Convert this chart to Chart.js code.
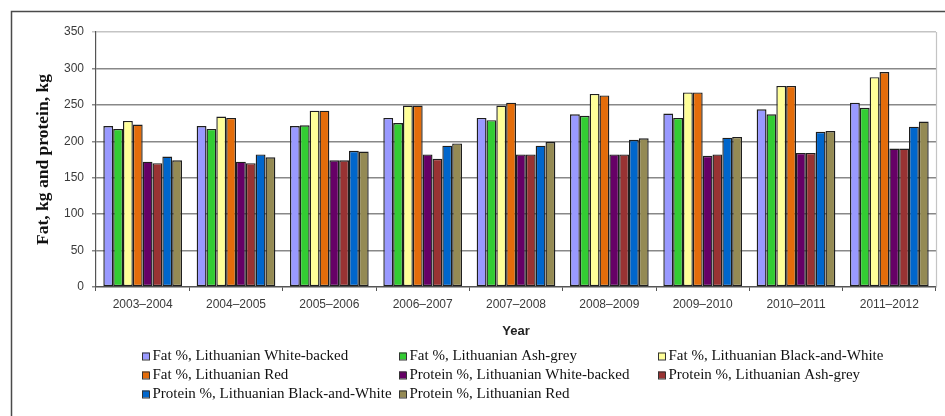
<!DOCTYPE html>
<html>
<head>
<meta charset="utf-8">
<title>Fat and protein yield by breed</title>
<script src="https://cdn.jsdelivr.net/npm/chart.js@4/dist/chart.umd.min.js"></script>
<style>
  html, body { margin: 0; padding: 0; background: #ffffff; }
  #wrap { width: 945px; height: 416px; position: relative; }
  canvas { display: block; }
</style>
</head>
<body>
<div id="wrap"><canvas id="chart" width="945" height="416"></canvas></div>
<script>
// Seasons on the category axis
const years = ['2003–2004', '2004–2005', '2005–2006', '2006–2007', '2007–2008',
               '2008–2009', '2009–2010', '2010–2011', '2011–2012'];

// Fat yield, kg
const fatWhiteBacked   = [221, 221, 221, 232, 232, 237, 238, 244, 253];
const fatAshGrey       = [217, 217, 222, 225, 229, 235, 232, 237, 246];
const fatBlackWhite    = [228, 234, 242, 249, 249, 265, 267, 276, 288];
const fatRed           = [223, 232, 242, 249, 253, 263, 267, 276, 295];

// Protein yield, kg
const proteinWhiteBacked = [172, 172, 174, 182, 182, 182, 180, 184, 190];
const proteinAshGrey     = [170, 170, 174, 176, 182, 182, 182, 184, 190];
const proteinBlackWhite  = [179, 182, 187, 194, 194, 202, 205, 213, 220];
const proteinRed         = [174, 178, 186, 197, 199, 204, 206, 214, 227];

const yTicks = { min: 0, max: 350, step: 50 };

const seriesLabels = [
  'Fat %, Lithuanian White-backed',
  'Fat %, Lithuanian Ash-grey',
  'Fat %, Lithuanian Black-and-White',
  'Fat %, Lithuanian Red',
  'Protein %, Lithuanian White-backed',
  'Protein %, Lithuanian Ash-grey',
  'Protein %, Lithuanian Black-and-White',
  'Protein %, Lithuanian Red'
];
const seriesData = [fatWhiteBacked, fatAshGrey, fatBlackWhite, fatRed,
                    proteinWhiteBacked, proteinAshGrey, proteinBlackWhite, proteinRed];
const seriesColors = ['#9999FF', '#33CC33', '#FFFF99', '#E36C0A',
                      '#660066', '#993333', '#0066CC', '#948A54'];

Chart.defaults.font.family = "'Liberation Sans', Arial, sans-serif";
Chart.defaults.color = '#3a3a3a';

// Outer frame, plot border on the right and the three-column legend
const decorations = {
  id: 'decorations',
  beforeDraw(chart) {
    const ctx = chart.ctx;
    ctx.save();
    ctx.fillStyle = '#ffffff';
    ctx.fillRect(0, 0, chart.width, chart.height);
    ctx.restore();
  },
  beforeDatasetsDraw(chart) {
    const { ctx, chartArea } = chart;
    ctx.save();
    ctx.strokeStyle = '#c4c4c4';
    ctx.lineWidth = 1.2;
    ctx.beginPath();
    ctx.moveTo(Math.round(chartArea.right) + 0.5, chartArea.top);
    ctx.lineTo(Math.round(chartArea.right) + 0.5, chartArea.bottom);
    ctx.stroke();
    ctx.restore();
  },
  afterDraw(chart) {
    const ctx = chart.ctx;
    ctx.save();
    // frame
    ctx.strokeStyle = '#4a4a4a';
    ctx.lineWidth = 1.5;
    ctx.beginPath();
    ctx.moveTo(11.5, chart.height);
    ctx.lineTo(11.5, 11.5);
    ctx.lineTo(chart.width, 11.5);
    ctx.stroke();

    // legend, three columns, row-major order
    const colX = [142, 399, 658];
    const rowY = [356, 375, 394];
    ctx.font = "15px 'Liberation Serif', 'Times New Roman', serif";
    ctx.textBaseline = 'middle';
    ctx.textAlign = 'left';
    chart.data.datasets.forEach((ds, i) => {
      const x = colX[i % 3];
      const y = rowY[Math.floor(i / 3)];
      ctx.fillStyle = ds.backgroundColor;
      ctx.fillRect(x, y - 3.5, 7, 7);
      ctx.strokeStyle = '#333333';
      ctx.lineWidth = 1;
      ctx.strokeRect(x + 0.5, y - 3, 7, 7);
      ctx.fillStyle = '#111111';
      ctx.fillText(ds.label, x + 10.5, y + 0.5);
    });
    ctx.restore();
  }
};

const chart = new Chart(document.getElementById('chart'), {
  type: 'bar',
  data: {
    labels: years,
    datasets: seriesLabels.map((label, i) => ({
      label: label,
      data: seriesData[i],
      backgroundColor: seriesColors[i],
      borderColor: '#1e1e1e',
      borderWidth: 1.4,
      borderSkipped: false,
      barPercentage: 1.0,
      categoryPercentage: 0.843
    }))
  },
  options: {
    responsive: false,
    animation: false,
    layout: { padding: { left: 20, right: 9, top: 32, bottom: 72 } },
    plugins: {
      legend: { display: false },
      tooltip: { enabled: false }
    },
    scales: {
      x: {
        grid: {
          display: true,
          drawOnChartArea: false,
          drawTicks: true,
          tickLength: 4,
          offset: true,
          color: '#555555'
        },
        border: { color: '#555555', width: 1.2 },
        ticks: { font: { size: 12 }, padding: 6, color: '#3a3a3a', maxRotation: 0 },
        title: {
          display: true,
          text: 'Year',
          font: { size: 13, weight: 'bold' },
          color: '#222222',
          padding: { top: 0, bottom: 5 }
        },
        afterFit(scale) { scale.height = 57; }
      },
      y: {
        min: yTicks.min,
        max: yTicks.max,
        ticks: { stepSize: yTicks.step, font: { size: 12 }, padding: 8, color: '#3a3a3a' },
        grid: {
          color: (ctx) => (ctx.tick && ctx.tick.value === yTicks.max) ? '#c4c4c4' : '#888888',
          lineWidth: 1.5,
          tickLength: 4,
          drawTicks: true
        },
        border: { color: '#555555', width: 1.2 },
        title: {
          display: true,
          text: 'Fat, kg and protein, kg',
          font: { size: 17.5, weight: 'bold', family: "'Liberation Serif', 'Times New Roman', serif" },
          color: '#111111',
          padding: { top: 13, bottom: 0 }
        },
        afterFit(scale) { scale.width = 76; }
      }
    }
  },
  plugins: [decorations]
});
</script>
</body>
</html>
